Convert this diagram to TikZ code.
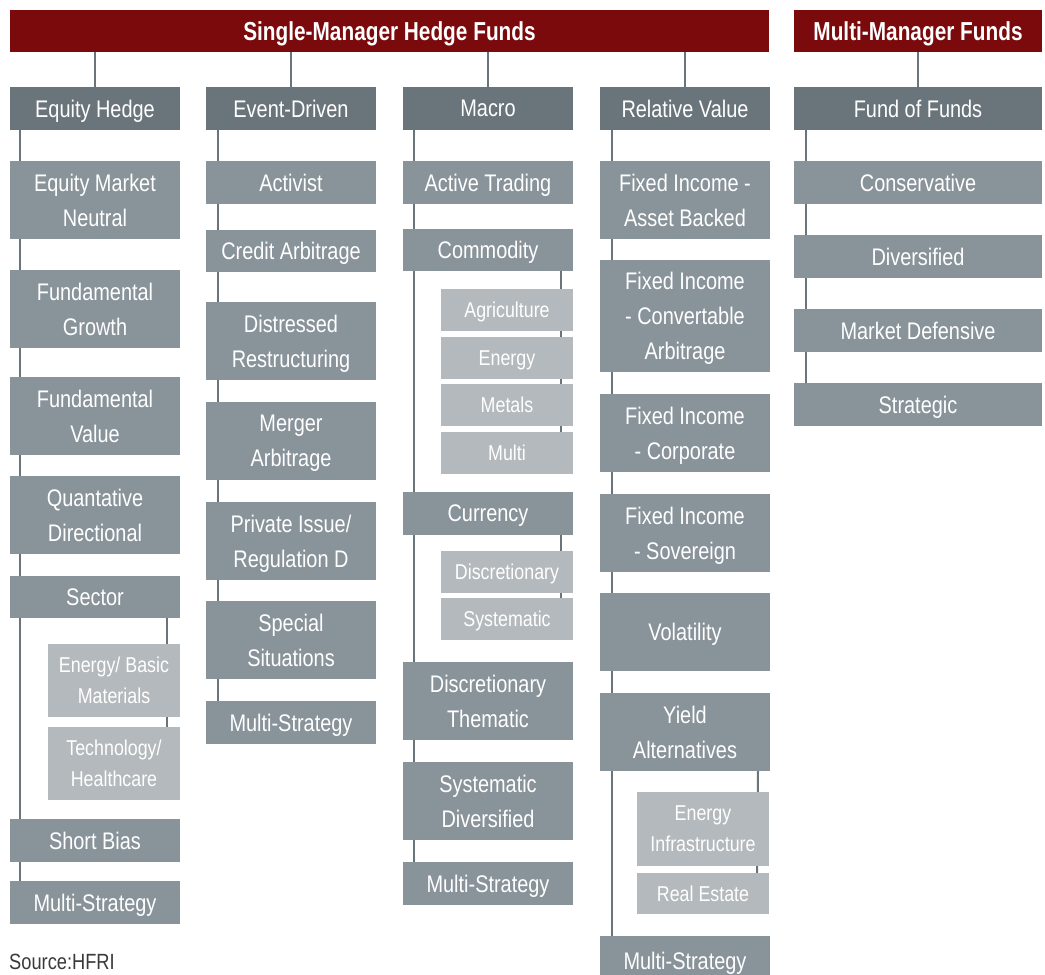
\documentclass[tikz,border=0pt]{standalone}
\usepackage{fontspec}
\setmainfont{Liberation Sans}[FakeStretch=0.83]
\newfontfamily\titlefont{Liberation Sans}[FakeStretch=0.80]
\definecolor{smred}{HTML}{7B0A0D}
\definecolor{hdr}{HTML}{6A757B}
\definecolor{chl}{HTML}{89939A}
\definecolor{gch}{HTML}{B3B9BD}
\definecolor{lnc}{HTML}{6A757B}
\definecolor{srcc}{HTML}{3A3A3A}
\pgfdeclarelayer{background}
\pgfsetlayers{background,main}
\begin{document}
\begin{tikzpicture}[x=1pt,y=-1pt,
  base/.style={anchor=north west, inner sep=0pt, outer sep=0pt, align=center, text=white, text depth=0pt},
  topbar/.style={base, fill=smred, minimum height=42pt, font=\titlefont\bfseries\fontsize{26}{30}\selectfont},
  hdrbox/.style={base, fill=hdr, minimum height=43pt, font=\fontsize{24}{35}\selectfont},
  chbox/.style={base, fill=chl, font=\fontsize{24}{35}\selectfont},
  gcbox/.style={base, fill=gch, minimum width=132pt, font=\fontsize{21.5}{31}\selectfont},
  conn/.style={draw=lnc, line width=2pt},
  w1/.style={minimum width=170pt},
  w5/.style={minimum width=248pt},
  h1/.style={minimum height=43pt},
  h2/.style={minimum height=78pt},
  h3/.style={minimum height=112pt}]
\useasboundingbox (0,0) rectangle (1045,975);

% top bars
\node[topbar, minimum width=759pt] (smhf) at (10,10) {Single-Manager Hedge Funds};
\node[topbar, minimum width=248pt] (mmf) at (794,10) {Multi-Manager Funds};

% headers
\node[hdrbox, w1] (eh) at (10,87) {Equity Hedge};
\node[hdrbox, w1] (ed) at (206,87) {Event-Driven};
\node[hdrbox, w1] (mac) at (403,87) {Macro};
\node[hdrbox, w1] (rv) at (600,87) {Relative Value};
\node[hdrbox, w5] (fof) at (794,87) {Fund of Funds};

% column 1
\node[chbox, w1, h2] (emn) at (10,161) {Equity Market\\Neutral};
\node[chbox, w1, h2] (fg) at (10,270) {Fundamental\\Growth};
\node[chbox, w1, h2] (fv) at (10,377) {Fundamental\\Value};
\node[chbox, w1, h2] (qd) at (10,476) {Quantative\\Directional};
\node[chbox, w1, minimum height=42pt] (sec) at (10,576) {Sector};
\node[gcbox, minimum height=73pt] (ebm) at (48,644) {Energy/ Basic\\Materials};
\node[gcbox, minimum height=73pt] (th) at (48,727) {Technology/\\Healthcare};
\node[chbox, w1, h1] (sb) at (10,819) {Short Bias};
\node[chbox, w1, h1] (ms1) at (10,881) {Multi-Strategy};

% column 2
\node[chbox, w1, h1] (act) at (206,161) {Activist};
\node[chbox, w1, minimum height=42pt] (ca) at (206,230) {Credit Arbitrage};
\node[chbox, w1, h2] (dr) at (206,302) {Distressed\\Restructuring};
\node[chbox, w1, h2] (ma) at (206,402) {Merger\\Arbitrage};
\node[chbox, w1, h2] (pi) at (206,502) {Private Issue/\\Regulation D};
\node[chbox, w1, h2] (ss) at (206,601) {Special\\Situations};
\node[chbox, w1, h1] (ms2) at (206,701) {Multi-Strategy};

% column 3
\node[chbox, w1, h1] (at) at (403,161) {Active Trading};
\node[chbox, w1, minimum height=42pt] (com) at (403,229) {Commodity};
\node[gcbox, minimum height=42pt] (agr) at (441,289) {Agriculture};
\node[gcbox, minimum height=42pt] (eng) at (441,337) {Energy};
\node[gcbox, minimum height=42pt] (met) at (441,384) {Metals};
\node[gcbox, minimum height=42pt] (mul) at (441,432) {Multi};
\node[chbox, w1, h1] (cur) at (403,492) {Currency};
\node[gcbox, minimum height=42pt] (dis) at (441,551) {Discretionary};
\node[gcbox, minimum height=42pt] (sys) at (441,598) {Systematic};
\node[chbox, w1, h2] (dt) at (403,662) {Discretionary\\Thematic};
\node[chbox, w1, h2] (sd) at (403,762) {Systematic\\Diversified};
\node[chbox, w1, h1] (ms3) at (403,862) {Multi-Strategy};

% column 4
\node[chbox, w1, h2] (fiab) at (600,161) {Fixed Income -\\Asset Backed};
\node[chbox, w1, h3] (fica) at (600,260) {Fixed Income\\- Convertable\\Arbitrage};
\node[chbox, w1, h2] (fic) at (600,394) {Fixed Income\\- Corporate};
\node[chbox, w1, h2] (fis) at (600,494) {Fixed Income\\- Sovereign};
\node[chbox, w1, h2] (vol) at (600,593) {Volatility};
\node[chbox, w1, h2] (ya) at (600,693) {Yield\\Alternatives};
\node[gcbox, minimum height=74pt] (ei) at (637,792) {Energy\\Infrastructure};
\node[gcbox, minimum height=41pt] (re) at (637,873) {Real Estate};
\node[chbox, w1, minimum height=50pt, text depth=-6pt] (ms4) at (600,936) {Multi-Strategy};

% column 5
\node[chbox, w5, h1] (cons) at (794,161) {Conservative};
\node[chbox, w5, h1] (div) at (794,235) {Diversified};
\node[chbox, w5, h1] (md) at (794,309) {Market Defensive};
\node[chbox, w5, h1] (str) at (794,383) {Strategic};

% source
\node[anchor=west, inner sep=0pt, text=srcc, font=\fontsize{22}{26}\selectfont] (src) at (9,962) {Source:HFRI};

\begin{pgfonlayer}{background}
\fill[white] (0,0) rectangle (1045,975);
% stubs from top bars
\foreach \h in {eh,ed,mac,rv} \draw[conn] (\h.north) -- (\h.north |- smhf.south);
\draw[conn] (fof.north) -- (fof.north |- mmf.south);

% main vertical connectors
\draw[conn] ([xshift=10pt]eh.south west) -- ([xshift=10pt]ms1.north west);
\draw[conn] ([xshift=12pt]ed.south west) -- ([xshift=12pt]ms2.north west);
\draw[conn] ([xshift=11pt]mac.south west) -- ([xshift=11pt]ms3.north west);
\draw[conn] ([xshift=12pt]rv.south west) -- ([xshift=12pt]ms4.north west);
\draw[conn] ([xshift=12pt]fof.south west) -- ([xshift=12pt]str.north west);

% sub connectors
\draw[conn] ([xshift=-13pt]sec.south east) -- ([xshift=-13pt]th.north east);
\draw[conn] ([xshift=-12pt]com.south east) -- ([xshift=-12pt]mul.north east);
\draw[conn] ([xshift=-12pt]cur.south east) -- ([xshift=-12pt]sys.north east);
\draw[conn] ([xshift=-12pt]ya.south east) -- ([xshift=-12pt]re.north east);
\end{pgfonlayer}
\end{tikzpicture}
\end{document}
